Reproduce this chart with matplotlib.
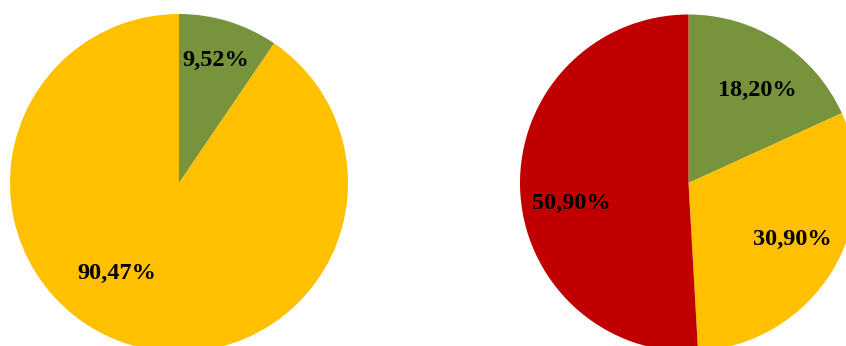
import matplotlib
matplotlib.use("Agg")
import matplotlib.pyplot as plt

# Shares per category (percent)
left_values = [9.52, 90.47]
left_colors = ["#77933C", "#FFC000"]

right_values = [18.20, 30.90, 50.90]
right_colors = ["#77933C", "#FFC000", "#C00000"]

# Label anchor points in units of the pie radius
left_label_pos = [(0.219, 0.728), (-0.367, -0.533)]
right_label_pos = [(0.407, 0.552), (0.614, -0.338), (-0.697, -0.119)]

W, H = 846, 346
fig = plt.figure(figsize=(W / 100, H / 100), dpi=100)
fig.patch.set_facecolor("white")


def fmt(v):
    return f"{v:.2f}".replace(".", ",") + "%"


def draw_pie(cx, cy, r, values, colors, label_pos):
    ax = fig.add_axes([(cx - r) / W, (H - cy - r) / H, 2 * r / W, 2 * r / H])
    ax.pie(values, colors=colors, startangle=90, counterclock=False,
           radius=1.0, wedgeprops=dict(linewidth=0))
    for v, (x, y) in zip(values, label_pos):
        ax.text(x, y, fmt(v), ha="center", va="center",
                fontfamily="Liberation Serif", fontweight="bold",
                fontsize=17.5, color="black")
    ax.set_xlim(-1, 1)
    ax.set_ylim(-1, 1)
    ax.set_aspect("auto")
    ax.axis("off")
    return ax


draw_pie(179, 183, 169, left_values, left_colors, left_label_pos)
draw_pie(688.5, 183, 168.5, right_values, right_colors, right_label_pos)

fig.savefig("out.png", dpi=100, facecolor="white")
